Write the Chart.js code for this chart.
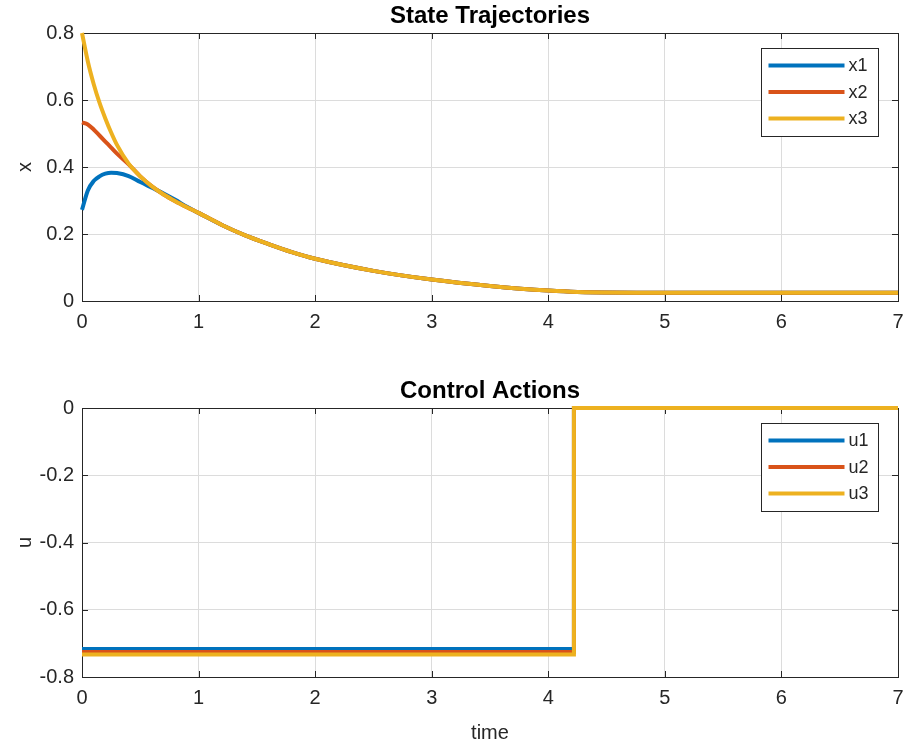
<!DOCTYPE html>
<html>
<head>
<meta charset="utf-8">
<script src="https://cdn.jsdelivr.net/npm/chart.js@4.4.1/dist/chart.umd.min.js"></script>
<style>
  body { margin: 0; background: #fff; }
  #wrap { position: relative; width: 905px; height: 749px; }
  #stateChart { position: absolute; left: 0; top: 0; }
  #controlChart { position: absolute; left: 0; top: 374px; }
</style>
</head>
<body>
<div id="wrap">
  <canvas id="stateChart" width="905" height="374"></canvas>
  <canvas id="controlChart" width="905" height="375"></canvas>
</div>
<script>
// state trajectories
const stateTime = [0, 0.05, 0.1, 0.15, 0.2, 0.25, 0.3, 0.4, 0.5, 0.6, 0.7, 0.8, 0.9, 1.0,
    1.2, 1.4, 1.6, 1.8, 2.0, 2.5, 3.0, 3.5, 4.0, 4.25, 5, 6, 7];
const x1Values = [0.272, 0.33, 0.358, 0.372, 0.38, 0.383, 0.382, 0.373, 0.355, 0.338, 0.321, 0.302, 0.281, 0.263,
    0.227, 0.196, 0.17, 0.146, 0.126, 0.09, 0.064, 0.045, 0.031, 0.027, 0.025, 0.025, 0.025];
const x2Values = [0.533, 0.527, 0.512, 0.494, 0.476, 0.458, 0.44, 0.408, 0.372, 0.342, 0.318, 0.298, 0.28, 0.263,
    0.227, 0.196, 0.17, 0.146, 0.126, 0.09, 0.064, 0.045, 0.031, 0.027, 0.025, 0.025, 0.025];
const x3Values = [0.80, 0.715, 0.648, 0.592, 0.545, 0.503, 0.466, 0.41, 0.372, 0.342, 0.318, 0.298, 0.28, 0.263,
    0.227, 0.196, 0.17, 0.146, 0.126, 0.09, 0.064, 0.045, 0.031, 0.027, 0.025, 0.025, 0.025];

// control actions (piecewise constant)
const controlTime = [0, 4.22, 7];
const u1Values = [-0.717, 0, 0];
const u2Values = [-0.726, 0, 0];
const u3Values = [-0.733, 0, 0];

const stateLabels = ['x1', 'x2', 'x3'];
const controlLabels = ['u1', 'u2', 'u3'];
const lineColors = ['#0072BD', '#D95319', '#EDB120'];

const xTicks = [0, 1, 2, 3, 4, 5, 6, 7];
const xTickLabels = ['0', '1', '2', '3', '4', '5', '6', '7'];
const stateTicks = [0, 0.2, 0.4, 0.6, 0.8];
const stateTickLabels = ['0', '0.2', '0.4', '0.6', '0.8'];
const controlTicks = [-0.8, -0.6, -0.4, -0.2, 0];
const controlTickLabels = ['-0.8', '-0.6', '-0.4', '-0.2', '0'];

const FONT = '"Liberation Sans", Arial, sans-serif';
const INK = '#262626';

function toPoints(times, values) {
    return times.map((t, i) => ({ x: t, y: values[i] }));
}

// matlab-ish axes: full box, inward ticks, boxed legend
const axesBox = {
    id: 'axesBox',
    beforeDatasetsDraw(chart) {
        const { ctx, chartArea: a } = chart;
        const xs = chart.scales.x, ys = chart.scales.y;
        ctx.save();
        ctx.strokeStyle = INK;
        ctx.lineWidth = 1;
        ctx.beginPath();
        xs.ticks.forEach(t => {
            const px = Math.round(xs.getPixelForValue(t.value)) + 0.5;
            ctx.moveTo(px, a.bottom); ctx.lineTo(px, a.bottom - 6);
            ctx.moveTo(px, a.top); ctx.lineTo(px, a.top + 6);
        });
        ys.ticks.forEach(t => {
            const py = Math.round(ys.getPixelForValue(t.value)) + 0.5;
            ctx.moveTo(a.left, py); ctx.lineTo(a.left + 6, py);
            ctx.moveTo(a.right, py); ctx.lineTo(a.right - 6, py);
        });
        ctx.stroke();
        ctx.strokeRect(Math.round(a.left) + 0.5, Math.round(a.top) + 0.5,
            Math.round(a.right - a.left), Math.round(a.bottom - a.top));
        ctx.restore();
    },
    afterDatasetsDraw(chart, args, opts) {
        const { ctx, chartArea: a } = chart;
        ctx.save();
        const bx = Math.round(a.right - opts.right - opts.width) + 0.5;
        const by = Math.round(a.top + opts.top) + 0.5;
        ctx.fillStyle = '#fff';
        ctx.fillRect(bx, by, opts.width, opts.height);
        ctx.strokeStyle = INK;
        ctx.lineWidth = 1;
        ctx.strokeRect(bx, by, opts.width, opts.height);
        ctx.font = '18px ' + FONT;
        ctx.textBaseline = 'middle';
        chart.data.datasets.forEach((ds, i) => {
            const y = by + 17 + i * 26.5;
            ctx.strokeStyle = ds.borderColor;
            ctx.lineWidth = 4;
            ctx.beginPath();
            ctx.moveTo(bx + 7, y); ctx.lineTo(bx + 83, y);
            ctx.stroke();
            ctx.fillStyle = INK;
            ctx.fillText(ds.label, bx + 87, y + 1);
        });
        ctx.restore();
    }
};

function makeChart(canvasId, title, yLabel, xLabel, times, series, labels, yTicks, yTickLabels, yMin, yMax, cfg) {
    const datasets = series.map((vals, i) => ({
        label: labels[i],
        data: toPoints(times, vals),
        borderColor: lineColors[i],
        backgroundColor: lineColors[i],
        borderWidth: 4,
        pointRadius: 0,
        fill: false,
        clip: 3,
        order: series.length - i,
        stepped: cfg.stepped ? 'before' : false,
        cubicInterpolationMode: 'monotone'
    }));
    return new Chart(document.getElementById(canvasId), {
        type: 'line',
        data: { datasets },
        plugins: [axesBox],
        options: {
            responsive: false,
            animation: false,
            layout: { padding: { left: 0, right: 7, top: 0, bottom: 0 } },
            plugins: {
                legend: { display: false },
                tooltip: { enabled: false },
                title: {
                    display: true,
                    text: title,
                    fullSize: false,
                    color: '#000',
                    font: { family: FONT, size: 24, weight: 'bold' },
                    padding: cfg.titlePadding
                },
                axesBox: { right: 20, top: 15, width: 117, height: 88 }
            },
            scales: {
                x: {
                    type: 'linear',
                    min: 0, max: 7,
                    afterBuildTicks: s => { s.ticks = xTicks.map(v => ({ value: v })); },
                    afterFit: s => { s.height = cfg.xAxisHeight; s.paddingLeft = 0; s.paddingRight = 0; },
                    border: { display: false },
                    grid: { color: '#dcdcdc', drawTicks: false },
                    ticks: {
                        color: INK, padding: 9, maxRotation: 0,
                        font: { family: FONT, size: 20 },
                        callback: (v, i) => xTickLabels[i]
                    },
                    title: {
                        display: !!xLabel, text: xLabel || '', color: INK,
                        font: { family: FONT, size: 20 },
                        padding: { top: 0, bottom: 4 }
                    }
                },
                y: {
                    type: 'linear',
                    min: yMin, max: yMax,
                    afterBuildTicks: s => { s.ticks = yTicks.map(v => ({ value: v })); },
                    afterFit: s => { s.width = 82; s.paddingTop = 0; s.paddingBottom = 0; },
                    border: { display: false },
                    grid: { color: '#dcdcdc', drawTicks: false },
                    ticks: {
                        color: INK, padding: 8,
                        font: { family: FONT, size: 20 },
                        callback: (v, i) => yTickLabels[i]
                    },
                    title: {
                        display: true, text: yLabel, color: INK,
                        font: { family: FONT, size: 20 },
                        padding: { top: 13, bottom: 0 }
                    }
                }
            }
        }
    });
}

makeChart('stateChart', 'State Trajectories', 'x', null, stateTime,
    [x1Values, x2Values, x3Values], stateLabels, stateTicks, stateTickLabels, 0, 0.8,
    { stepped: false, xAxisHeight: 73, titlePadding: { top: 2, bottom: 2.2 } });

makeChart('controlChart', 'Control Actions', 'u', 'time', controlTime,
    [u1Values, u2Values, u3Values], controlLabels, controlTicks, controlTickLabels, -0.8, 0,
    { stepped: true, xAxisHeight: 72, titlePadding: { top: 3, bottom: 2.2 } });
</script>
</body>
</html>
